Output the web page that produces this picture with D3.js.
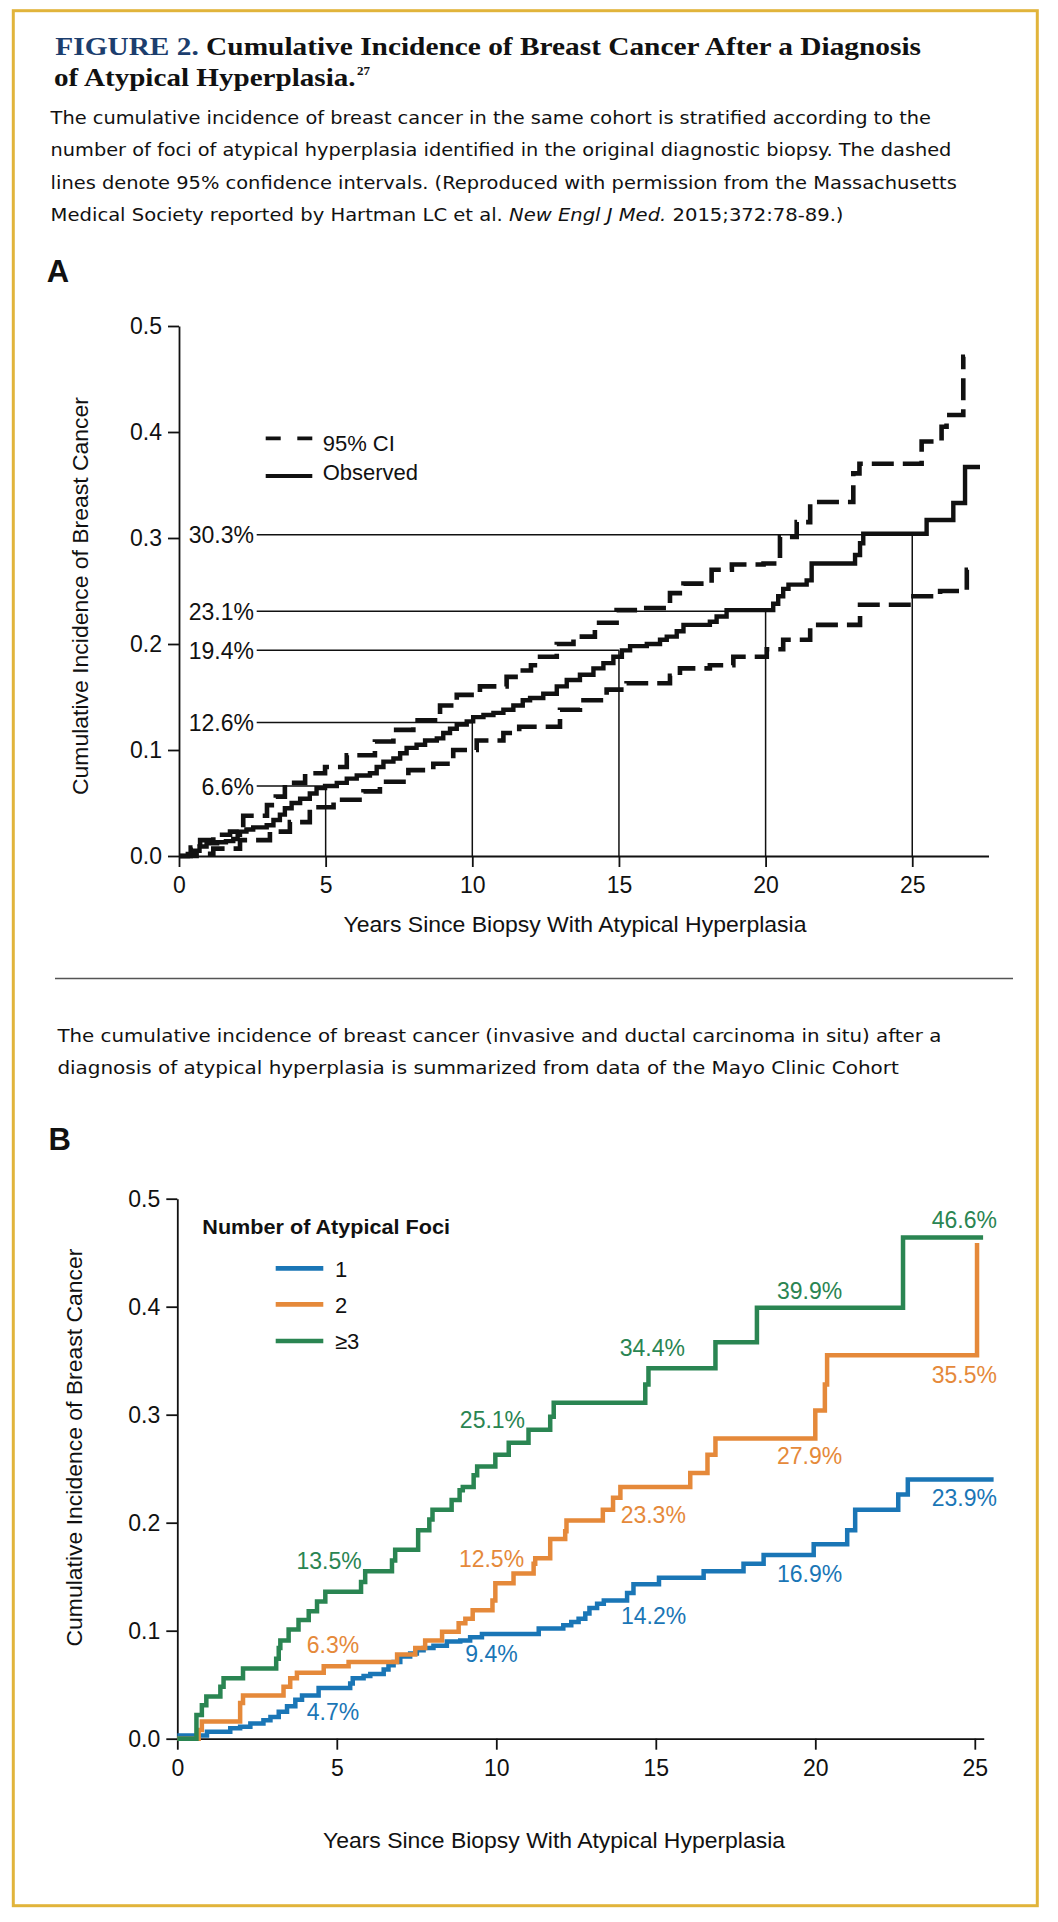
<!DOCTYPE html>
<html><head><meta charset="utf-8">
<script src="https://cdn.jsdelivr.net/npm/d3@7"></script>
<style>body{margin:0;background:#fff}svg{display:block}</style>
</head><body>
<svg id="c" width="1058" height="1922"></svg>
<script>
// ================= DATA =================
// Panel A
const xTicksA = [0, 5, 10, 15, 20, 25];
const yTicksA = [0, 0.1, 0.2, 0.3, 0.4, 0.5];
const observedA = [[0,0],[0.3,0.002],[0.5,0.005],[0.7,0.009],[0.94,0.012],[1.3,0.013],[1.6,0.014],[1.85,0.016],[2.0,0.02],[2.08,0.023],[2.3,0.025],[2.53,0.027],[2.99,0.029],[3.22,0.034],[3.44,0.039],[3.61,0.045],[3.84,0.05],[4.13,0.054],[4.46,0.059],[4.69,0.064],[4.98,0.066],[5.38,0.069],[5.72,0.073],[6.06,0.076],[6.51,0.078],[6.74,0.084],[6.97,0.089],[7.31,0.092],[7.54,0.097],[7.76,0.102],[8.1,0.105],[8.39,0.109],[8.79,0.111],[9.01,0.116],[9.24,0.12],[9.47,0.124],[9.81,0.127],[10.03,0.131],[10.38,0.133],[10.72,0.135],[11.06,0.138],[11.4,0.142],[11.72,0.147],[11.97,0.149],[12.42,0.153],[12.88,0.16],[13.22,0.166],[13.67,0.171],[14.13,0.177],[14.47,0.182],[14.81,0.188],[15.1,0.194],[15.38,0.198],[15.95,0.2],[16.4,0.204],[16.63,0.207],[16.97,0.212],[17.2,0.218],[18.1,0.221],[18.33,0.226],[18.67,0.232],[20.26,0.238],[20.43,0.245],[20.6,0.252],[20.78,0.256],[21.4,0.26],[21.57,0.276],[23.05,0.284],[23.22,0.295],[23.33,0.304],[25.49,0.317],[26.4,0.333],[26.8,0.367],[27.31,0.367]];
const upperCIA = [[0,0],[0.4,0.008],[0.72,0.015],[1.17,0.02],[1.74,0.023],[2.19,0.038],[3.0,0.048],[3.3,0.056],[3.61,0.069],[4.3,0.078],[4.98,0.084],[5.72,0.095],[6.68,0.108],[7.31,0.119],[7.99,0.128],[8.9,0.142],[9.47,0.152],[10.26,0.16],[11.17,0.169],[11.63,0.175],[12.0,0.18],[12.31,0.188],[12.88,0.2],[13.45,0.207],[14.18,0.22],[14.92,0.232],[15.72,0.234],[16.74,0.248],[17.2,0.257],[18.16,0.27],[18.85,0.275],[19.93,0.276],[20.49,0.301],[21.06,0.315],[21.52,0.334],[22.99,0.361],[23.2,0.37],[25.32,0.391],[26.0,0.405],[26.17,0.416],[26.74,0.471],[26.8,0.471]];
const lowerCIA = [[0,0],[0.6,0.002],[1.17,0.007],[2.08,0.015],[3.1,0.023],[3.78,0.032],[4.46,0.046],[5.27,0.053],[6.29,0.061],[6.85,0.07],[7.82,0.081],[8.67,0.087],[9.35,0.1],[10.15,0.109],[11.06,0.116],[11.6,0.122],[12.99,0.138],[13.67,0.147],[14.58,0.157],[15.26,0.163],[16.74,0.17],[17.08,0.177],[18.1,0.18],[18.9,0.188],[20.04,0.195],[20.6,0.204],[21.52,0.218],[23.22,0.237],[25.04,0.245],[25.95,0.25],[26.86,0.27],[26.9,0.27]];
const refYearsA = [5, 10, 15, 20, 25];
const refValuesA = [0.066, 0.126, 0.194, 0.231, 0.303];
const refLabelsA = ["6.6%", "12.6%", "19.4%", "23.1%", "30.3%"];
const legendA = ["95% CI", "Observed"];

// Panel B
const xTicksB = [0, 5, 10, 15, 20, 25];
const yTicksB = [0, 0.1, 0.2, 0.3, 0.4, 0.5];
const seriesNamesB = ["1", "2", "\u22653"];
const foci1 = [[0,0.003],[0.93,0.0065],[1.66,0.0096],[1.97,0.011],[2.29,0.014],[2.7,0.017],[2.92,0.02],[3.18,0.025],[3.44,0.03],[3.7,0.036],[3.91,0.04],[4.43,0.047],[5.42,0.051],[5.5,0.056],[5.84,0.058],[6.05,0.06],[6.47,0.064],[6.62,0.068],[6.78,0.071],[6.99,0.076],[7.3,0.079],[7.51,0.082],[7.72,0.084],[8.03,0.086],[8.45,0.09],[8.87,0.091],[9.18,0.094],[9.55,0.097],[11.33,0.102],[12.1,0.105],[12.35,0.108],[12.58,0.111],[12.79,0.116],[12.92,0.121],[13.16,0.125],[13.37,0.128],[14.1,0.135],[14.3,0.143],[15.1,0.149],[16.5,0.155],[17.75,0.162],[18.38,0.17],[19.95,0.18],[21.0,0.193],[21.25,0.212],[22.6,0.226],[22.9,0.24],[25.59,0.24]];
const foci2 = [[0,0],[0.67,0.008],[0.77,0.016],[1.97,0.033],[2.06,0.04],[3.33,0.048],[3.54,0.056],[3.75,0.061],[4.59,0.067],[5.37,0.071],[6.89,0.078],[7.46,0.084],[7.77,0.091],[8.3,0.099],[8.82,0.107],[9.03,0.111],[9.26,0.119],[9.88,0.128],[9.97,0.144],[10.54,0.153],[11.17,0.162],[11.22,0.167],[11.69,0.185],[12.16,0.192],[12.2,0.202],[13.34,0.212],[13.66,0.223],[13.89,0.233],[16.08,0.246],[16.62,0.263],[16.87,0.278],[20.0,0.304],[20.3,0.328],[20.37,0.355],[25.07,0.459]];
const foci3 = [[0,0],[0.6,0.022],[0.77,0.031],[0.91,0.039],[1.35,0.048],[1.45,0.056],[2.06,0.065],[3.1,0.074],[3.18,0.084],[3.23,0.091],[3.49,0.101],[3.8,0.11],[4.12,0.118],[4.38,0.127],[4.64,0.136],[5.76,0.145],[5.89,0.155],[6.73,0.165],[6.83,0.175],[7.55,0.193],[7.9,0.203],[8.0,0.212],[8.6,0.221],[8.85,0.23],[8.95,0.233],[9.29,0.244],[9.4,0.252],[9.97,0.263],[10.39,0.274],[11.01,0.286],[11.69,0.298],[11.8,0.311],[14.67,0.328],[14.77,0.343],[16.87,0.367],[18.17,0.399],[22.75,0.464],[25.26,0.464]];
// annotation labels: text, anchor year, anchor level (label centre, in data units)
const labels1 = [["4.7%",4.88,0.025],["9.4%",9.85,0.0784],["14.2%",14.93,0.1141],["16.9%",19.82,0.1531],["23.9%",24.67,0.2226]];
const labels2 = [["6.3%",4.88,0.0868],["12.5%",9.85,0.167],["23.3%",14.92,0.2071],["27.9%",19.82,0.2618],["35.5%",24.67,0.3368]];
const labels3 = [["13.5%",4.76,0.1648],["25.1%",9.88,0.2951],["34.4%",14.89,0.3615],["39.9%",19.82,0.4145],["46.6%",24.67,0.4809]];

// ================= DRAW =================
const colors = ["#1a76b6", "#e5893a", "#2a8552"];
const SANS = "'Liberation Sans', Arial, Helvetica, sans-serif";
const NARROW = "'Liberation Sans Narrow', 'DejaVu Sans Condensed', 'Liberation Sans', sans-serif";
const SERIF = "'Liberation Serif', 'Times New Roman', serif";
const INK = "#111";

const svg = d3.select("#c");
svg.append("rect").attr("width", 1058).attr("height", 1922).attr("fill", "#fff");
svg.append("rect").attr("x", 13.3).attr("y", 10.7).attr("width", 1024).attr("height", 1895)
  .attr("fill", "none").attr("stroke", "#E1B43B").attr("stroke-width", 3);

function fit(t, w) { return t.attr("textLength", w).attr("lengthAdjust", "spacingAndGlyphs"); }

// ---- header ----
const t1 = svg.append("text").attr("x", 55.3).attr("y", 55).attr("font-family", SERIF)
  .attr("font-weight", "bold").attr("font-size", 26).attr("fill", INK);
t1.append("tspan").attr("fill", "#1c3e6e").text("FIGURE 2.");
t1.append("tspan").text(" Cumulative Incidence of Breast Cancer After a Diagnosis");
fit(t1, 865.7);
const t2 = svg.append("text").attr("x", 54).attr("y", 86).attr("font-family", SERIF)
  .attr("font-weight", "bold").attr("font-size", 26).attr("fill", INK).text("of Atypical Hyperplasia.");
fit(t2, 301.6);
svg.append("text").attr("x", 357).attr("y", 75).attr("font-family", SERIF).attr("font-weight", "bold")
  .attr("font-size", 13).attr("fill", INK).text("27");

const para1 = [
  ["The cumulative incidence of breast cancer in the same cohort is stratified according to the", 880.4, 124],
  ["number of foci of atypical hyperplasia identified in the original diagnostic biopsy. The dashed", 900.8, 156.3],
  ["lines denote 95% confidence intervals. (Reproduced with permission from the Massachusetts", 906.2, 188.5]
];
para1.forEach(([s, w, y]) => {
  fit(svg.append("text").attr("x", 50.6).attr("y", y).attr("font-family", NARROW).attr("font-size", 18.5)
    .attr("fill", INK).text(s), w);
});
const l4 = svg.append("text").attr("x", 50.6).attr("y", 220.8).attr("font-family", NARROW)
  .attr("font-size", 18.5).attr("fill", INK);
l4.append("tspan").text("Medical Society reported by Hartman LC et al. ");
l4.append("tspan").attr("font-style", "italic").text("New Engl J Med.");
l4.append("tspan").text(" 2015;372:78-89.)");
fit(l4, 792.9);

svg.append("text").attr("x", 46.7).attr("y", 282).attr("font-family", SANS).attr("font-weight", "bold")
  .attr("font-size", 31).attr("fill", INK).text("A");

// ---- Panel A ----
const xA = d3.scaleLinear().domain([0, 27.6]).range([179, 179 + 27.6 * 29.33]);
const yA = d3.scaleLinear().domain([0, 0.5]).range([856, 326]);

function styleAxis(g) {
  g.attr("font-family", SANS).attr("font-size", 23);
  g.selectAll("text").attr("fill", INK);
  g.selectAll("line").attr("stroke", INK).attr("stroke-width", 1.8);
  g.select(".domain").attr("stroke", INK).attr("stroke-width", 1.8);
}

// reference lines
const gRef = svg.append("g");
refYearsA.forEach((yr, i) => {
  const v = refValuesA[i];
  gRef.append("line").attr("x1", 256.7).attr("x2", xA(yr)).attr("y1", yA(v)).attr("y2", yA(v))
    .attr("stroke", INK).attr("stroke-width", 1.5);
  gRef.append("line").attr("x1", xA(yr)).attr("x2", xA(yr)).attr("y1", yA(v)).attr("y2", yA(0))
    .attr("stroke", INK).attr("stroke-width", 1.5);
  gRef.append("text").attr("x", 254).attr("y", yA(v) + 8.5).attr("text-anchor", "end")
    .attr("font-family", SANS).attr("font-size", 23).attr("fill", INK).text(refLabelsA[i]);
});

const gyA = svg.append("g").attr("transform", `translate(${xA(0)},0)`)
  .call(d3.axisLeft(yA).tickValues(yTicksA).tickFormat(d3.format(".1f")).tickSize(11).tickPadding(6).tickSizeOuter(0));
styleAxis(gyA);
const gxA = svg.append("g").attr("transform", `translate(0,${yA(0)})`)
  .call(d3.axisBottom(xA).tickValues(xTicksA).tickFormat(d3.format("d")).tickSize(11).tickPadding(10).tickSizeOuter(0));
styleAxis(gxA);

const lineA = d3.line().x(d => xA(d[0])).y(d => yA(d[1])).curve(d3.curveStepAfter);
[upperCIA, lowerCIA].forEach(s => {
  svg.append("path").attr("d", lineA(s)).attr("fill", "none").attr("stroke", INK)
    .attr("stroke-width", 4.6).attr("stroke-dasharray", "22,9");
});
svg.append("path").attr("d", lineA(observedA)).attr("fill", "none").attr("stroke", INK).attr("stroke-width", 4.4);

// legend A
svg.append("line").attr("x1", 265.7).attr("x2", 312.3).attr("y1", 438.3).attr("y2", 438.3)
  .attr("stroke", INK).attr("stroke-width", 3.8).attr("stroke-dasharray", "15,16.6");
svg.append("line").attr("x1", 265.7).attr("x2", 312.3).attr("y1", 476).attr("y2", 476)
  .attr("stroke", INK).attr("stroke-width", 3.8);
svg.append("text").attr("x", 322.7).attr("y", 450.7).attr("font-family", SANS).attr("font-size", 22)
  .attr("fill", INK).text(legendA[0]);
svg.append("text").attr("x", 322.7).attr("y", 480).attr("font-family", SANS).attr("font-size", 22)
  .attr("fill", INK).text(legendA[1]);

// axis titles A
fit(svg.append("text").attr("x", 575).attr("y", 931.7).attr("text-anchor", "middle").attr("font-family", SANS)
  .attr("font-size", 22).attr("fill", INK).text("Years Since Biopsy With Atypical Hyperplasia"), 463);
fit(svg.append("text").attr("transform", "translate(88.3,596) rotate(-90)").attr("text-anchor", "middle")
  .attr("font-family", SANS).attr("font-size", 22).attr("fill", INK).text("Cumulative Incidence of Breast Cancer"), 398);

// divider
svg.append("line").attr("x1", 55).attr("x2", 1013).attr("y1", 978.5).attr("y2", 978.5)
  .attr("stroke", "#555").attr("stroke-width", 1.4);

// paragraph 2
const para2 = [
  ["The cumulative incidence of breast cancer (invasive and ductal carcinoma in situ) after a", 883.9, 1041.7],
  ["diagnosis of atypical hyperplasia is summarized from data of the Mayo Clinic Cohort", 841.4, 1074]
];
para2.forEach(([s, w, y]) => {
  fit(svg.append("text").attr("x", 57.4).attr("y", y).attr("font-family", NARROW).attr("font-size", 18.5)
    .attr("fill", INK).text(s), w);
});
svg.append("text").attr("x", 48.6).attr("y", 1150).attr("font-family", SANS).attr("font-weight", "bold")
  .attr("font-size", 31).attr("fill", INK).text("B");

// ---- Panel B ----
const xB = d3.scaleLinear().domain([0, 25.28]).range([177.3, 177.3 + 25.28 * 31.9]);
const yB = d3.scaleLinear().domain([0, 0.5]).range([1738.7, 1198.7]);

const gyB = svg.append("g").attr("transform", `translate(${xB(0)},0)`)
  .call(d3.axisLeft(yB).tickValues(yTicksB).tickFormat(d3.format(".1f")).tickSize(11).tickPadding(6).tickSizeOuter(0));
styleAxis(gyB);
const gxB = svg.append("g").attr("transform", `translate(0,${yB(0)})`)
  .call(d3.axisBottom(xB).tickValues(xTicksB).tickFormat(d3.format("d")).tickSize(11).tickPadding(10).tickSizeOuter(0));
styleAxis(gxB);

const lineB = d3.line().x(d => xB(d[0])).y(d => yB(d[1])).curve(d3.curveStepAfter);
[foci1, foci2, foci3].forEach((s, i) => {
  svg.append("path").attr("d", lineB(s)).attr("fill", "none").attr("stroke", colors[i]).attr("stroke-width", 4.5);
});
[labels1, labels2, labels3].forEach((ls, i) => {
  ls.forEach(([txt, yr, lv]) => {
    svg.append("text").attr("x", xB(yr)).attr("y", yB(lv) + 8.2).attr("text-anchor", "middle")
      .attr("font-family", SANS).attr("font-size", 23).attr("fill", colors[i]).text(txt);
  });
});

// legend B
fit(svg.append("text").attr("x", 202.3).attr("y", 1234).attr("font-family", SANS).attr("font-weight", "bold")
  .attr("font-size", 21).attr("fill", INK).text("Number of Atypical Foci"), 247.7);
const legY = [1268.3, 1304.3, 1341];
seriesNamesB.forEach((n, i) => {
  svg.append("line").attr("x1", 275.7).attr("x2", 323.3).attr("y1", legY[i]).attr("y2", legY[i])
    .attr("stroke", colors[i]).attr("stroke-width", 4.7);
  svg.append("text").attr("x", 335).attr("y", legY[i] + 8.2).attr("font-family", SANS).attr("font-size", 22)
    .attr("fill", INK).text(n);
});

// axis titles B
fit(svg.append("text").attr("x", 554).attr("y", 1848.3).attr("text-anchor", "middle").attr("font-family", SANS)
  .attr("font-size", 22).attr("fill", INK).text("Years Since Biopsy With Atypical Hyperplasia"), 462);
fit(svg.append("text").attr("transform", "translate(81.7,1447.5) rotate(-90)").attr("text-anchor", "middle")
  .attr("font-family", SANS).attr("font-size", 22).attr("fill", INK).text("Cumulative Incidence of Breast Cancer"), 398);
</script>
</body></html>
